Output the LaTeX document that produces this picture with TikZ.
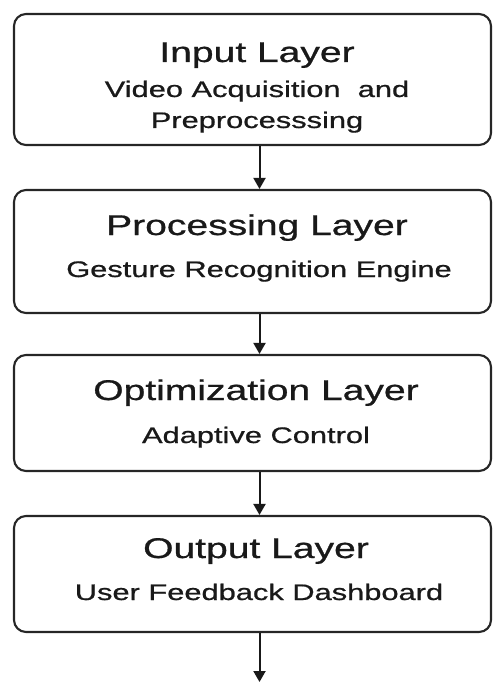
\documentclass[tikz,border=0pt]{standalone}
\usepackage{fontspec}
\usepackage{graphicx}
\setmainfont[FakeBold=0.7]{Liberation Sans}
\usetikzlibrary{arrows.meta}
\newcommand{\wide}[1]{\scalebox{1.37}[1]{#1}}
\begin{document}
\begin{tikzpicture}[x=1pt,y=-1pt,
  layerbox/.style={draw=black!85, line width=2.1pt, rounded corners=12pt,
                   minimum width=477pt, inner sep=0pt},
  layertitle/.style={anchor=base, inner sep=0pt, text=black!90,
                     font=\fontsize{28.5}{30}\selectfont},
  layersub/.style={anchor=base, inner sep=0pt, text=black!90,
                   font=\fontsize{22.5}{24}\selectfont},
  flow/.style={draw=black!90, line width=2pt,
               -{Triangle[width=12pt,length=11pt]}}]
\useasboundingbox (0,0) rectangle (493,682);

% layer boxes
\node[layerbox, minimum height=131pt] (input)  at (252.5,79.5) {};
\node[layerbox, minimum height=123pt] (proc)   at (252.5,251.5) {};
\node[layerbox, minimum height=116pt] (optim)  at (252.5,413) {};
\node[layerbox, minimum height=116pt] (output) at (252.5,574) {};

% box texts
\node[layertitle] (inputT) at (257,62)  {\wide{Input Layer}};
\node[layersub]   (inputA) at (257,97)  {\wide{Video Acquisition\ \ and}};
\node[layersub]   (inputB) at (257,128) {\wide{Preprocesssing}};

\node[layertitle] (procT) at (257,235) {\wide{Processing Layer}};
\node[layersub]   (procA) at (259,277) {\wide{Gesture Recognition Engine}};

\node[layertitle] (optimT) at (256,400) {\wide{Optimization Layer}};
\node[layersub]   (optimA) at (256,443) {\wide{Adaptive Control}};

\node[layertitle] (outputT) at (256,558) {\wide{Output Layer}};
\node[layersub]   (outputA) at (259,600) {\wide{User Feedback Dashboard}};

% connectors
\coordinate (flowend) at (259.5,682);
\draw[flow] ([xshift=7pt]input.south) -- ([xshift=7pt]proc.north);
\draw[flow] ([xshift=7pt]proc.south)  -- ([xshift=7pt]optim.north);
\draw[flow] ([xshift=7pt]optim.south) -- ([xshift=7pt]output.north);
\draw[flow] ([xshift=7pt]output.south) -- (flowend);
\end{tikzpicture}
\end{document}
